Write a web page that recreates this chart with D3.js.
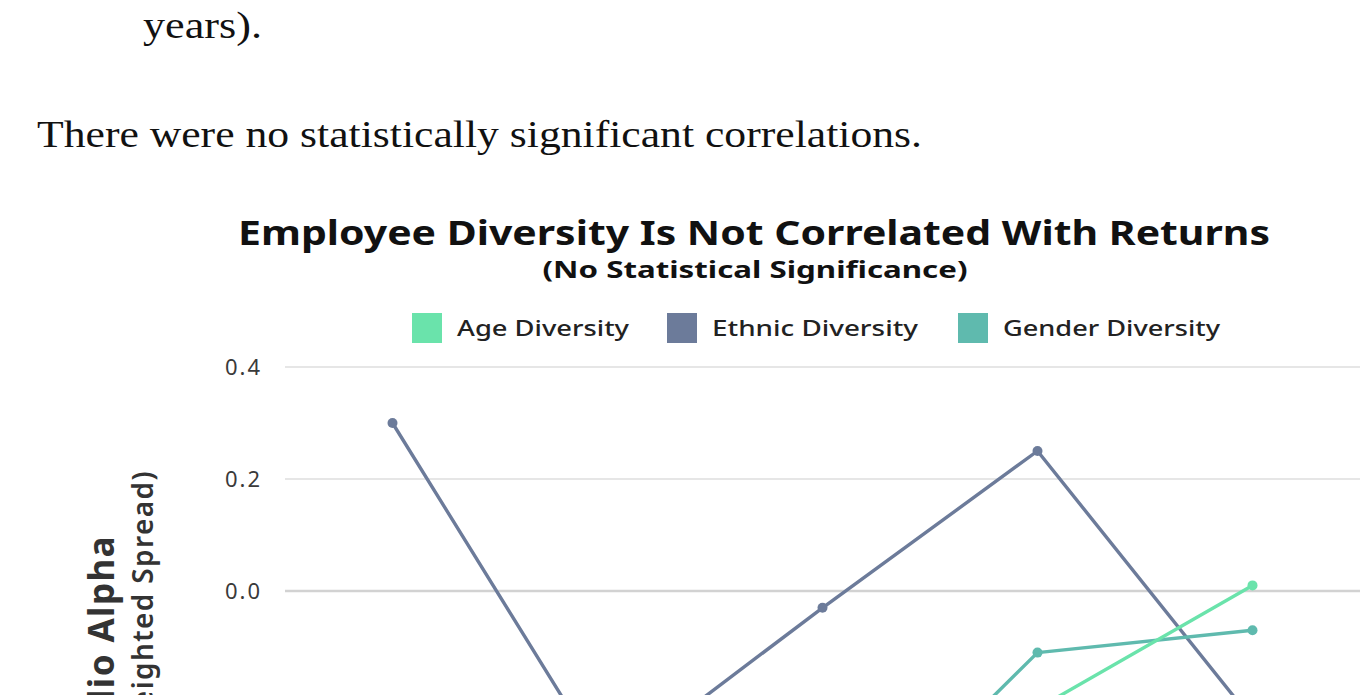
<!DOCTYPE html>
<html>
<head>
<meta charset="utf-8">
<script src="https://cdn.jsdelivr.net/npm/d3@7"></script>
<style>
  html, body { margin: 0; padding: 0; background: #fff; overflow: hidden; }
  svg { display: block; }
</style>
</head>
<body>
<svg id="chart" width="1366" height="695"></svg>
<script>
// ---- data ----
const categories = ["Quintile 1", "Quintile 2", "Quintile 3", "Quintile 4", "Quintile 5"];
const seriesNames = ["Age Diversity", "Ethnic Diversity", "Gender Diversity"];
const ageValues = [-0.30, -0.38, -0.42, -0.21, 0.01];
const ethnicValues = [0.30, -0.32, -0.03, 0.25, -0.23];
const genderValues = [-0.35, -0.40, -0.49, -0.11, -0.07];
const yTicks = [-0.6, -0.4, -0.2, 0.0, 0.2, 0.4];
const seriesColors = ["#6ae3ab", "#6c7b9a", "#5fbaae"];

const titleText = "Employee Diversity Is Not Correlated With Returns";
const subtitleText = "(No Statistical Significance)";
const yTitle1 = "Portfolio Alpha";
const yTitle2 = "(Value-Weighted Spread)";
const bodyLine1 = "years).";
const bodyLine2 = "There were no statistically significant correlations.";

const svg = d3.select("#chart");
const sansFont = "'Noto Sans', 'DejaVu Sans', sans-serif";
const serifFont = "'Liberation Serif', 'DejaVu Serif', serif";

// ---- article text above chart ----
svg.append("text").attr("x", 143).attr("y", 38)
  .attr("font-family", serifFont).attr("font-size", 37).attr("fill", "#111")
  .attr("textLength", 119).attr("lengthAdjust", "spacingAndGlyphs")
  .text(bodyLine1);
svg.append("text").attr("x", 37).attr("y", 147)
  .attr("font-family", serifFont).attr("font-size", 37).attr("fill", "#111")
  .attr("textLength", 885).attr("lengthAdjust", "spacingAndGlyphs")
  .text(bodyLine2);

// ---- chart title ----
svg.append("text").attr("x", 754).attr("y", 245).attr("text-anchor", "middle")
  .attr("font-family", sansFont).attr("font-weight", 700).attr("font-size", 34).attr("fill", "#111")
  .attr("textLength", 1032).attr("lengthAdjust", "spacingAndGlyphs")
  .text(titleText);
svg.append("text").attr("x", 755).attr("y", 278).attr("text-anchor", "middle")
  .attr("font-family", sansFont).attr("font-weight", 700).attr("font-size", 24).attr("fill", "#111")
  .attr("textLength", 425).attr("lengthAdjust", "spacingAndGlyphs")
  .text(subtitleText);

// ---- scales ----
const x = d3.scalePoint().domain(categories).range([285, 1360]).padding(0.5);
const y = d3.scaleLinear().domain([-0.6, 0.4]).range([927, 367]);

// ---- gridlines + y axis ----
const yAxis = d3.axisLeft(y).tickValues(yTicks).tickFormat(d3.format(".1f"))
  .tickSize(0).tickPadding(23);
const gY = svg.append("g").attr("transform", "translate(285,0)").call(yAxis);
gY.select(".domain").remove();
gY.selectAll("text").attr("font-family", sansFont).attr("font-size", 22)
  .attr("letter-spacing", 2).attr("fill", "#3a3a3a");

svg.append("g").selectAll("line").data(yTicks).join("line")
  .attr("x1", 285).attr("x2", 1360)
  .attr("y1", d => y(d)).attr("y2", d => y(d))
  .attr("stroke", d => d === 0 ? "#d2d2d2" : "#e6e6e6")
  .attr("stroke-width", d => d === 0 ? 2.5 : 2);

// ---- x axis (below the visible area) ----
const xAxis = d3.axisBottom(x).tickSize(0).tickPadding(12);
const gX = svg.append("g").attr("transform", `translate(0,${y(-0.6)})`).call(xAxis);
gX.select(".domain").remove();
gX.selectAll("text").attr("font-family", sansFont).attr("font-size", 20).attr("fill", "#444");

// ---- y axis titles ----
svg.append("text").attr("transform", "translate(114,535) rotate(-90)")
  .attr("text-anchor", "end")
  .attr("font-family", sansFont).attr("font-weight", 700).attr("font-size", 35)
  .attr("letter-spacing", 1.4).attr("fill", "#333")
  .text(yTitle1);
svg.append("text").attr("transform", "translate(153,470) rotate(-90)")
  .attr("text-anchor", "end")
  .attr("font-family", sansFont).attr("font-weight", 600).attr("font-size", 28)
  .attr("letter-spacing", 1.4).attr("fill", "#333")
  .text(yTitle2);

// ---- lines ----
const seriesData = [ageValues, ethnicValues, genderValues];
const line = d3.line().x((d, i) => x(categories[i])).y(d => y(d));
const drawOrder = [1, 2, 0];
drawOrder.forEach(si => {
  const vals = seriesData[si];
  svg.append("path").datum(vals)
    .attr("d", line).attr("fill", "none")
    .attr("stroke", seriesColors[si]).attr("stroke-width", 3.4)
    .attr("stroke-linejoin", "round");
  svg.append("g").selectAll("circle").data(vals).join("circle")
    .attr("cx", (d, i) => x(categories[i])).attr("cy", d => y(d))
    .attr("r", 5).attr("fill", seriesColors[si]);
});

// ---- legend ----
const legendX = [412, 667, 958];
const legendW = [172, 206, 217];
const lg = svg.append("g").selectAll("g").data(seriesNames).join("g")
  .attr("transform", (d, i) => `translate(${legendX[i]},313)`);
lg.append("rect").attr("width", 30).attr("height", 30).attr("fill", (d, i) => seriesColors[i]);
lg.append("text").attr("x", 45).attr("y", 23)
  .attr("font-family", sansFont).attr("font-weight", 500).attr("font-size", 22).attr("fill", "#222")
  .attr("textLength", (d, i) => legendW[i]).attr("lengthAdjust", "spacingAndGlyphs")
  .text(d => d);
</script>
</body>
</html>
